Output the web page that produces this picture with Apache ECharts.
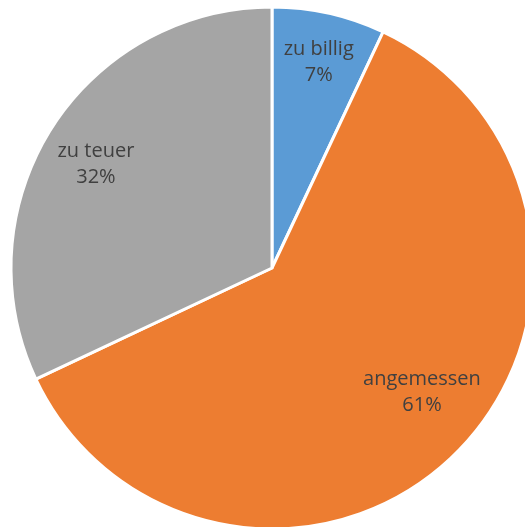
<!DOCTYPE html>
<html>
<head>
<meta charset="utf-8">
<style>
  html, body { margin: 0; padding: 0; background: #fff; }
  #main { width: 525px; height: 527px; }
</style>
</head>
<body>
<div id="main"></div>
<script src="https://cdn.jsdelivr.net/npm/echarts@6/dist/echarts.min.js"></script>
<script>
// Daten
var categories = ['zu billig', 'angemessen', 'zu teuer'];
var values = [7, 61, 32];
var colors = ['#5B9BD5', '#ED7D31', '#A5A5A5'];

var chart = echarts.init(document.getElementById('main'));

// kleine Korrekturen der Beschriftungslage (wie Excel sie setzt)
var labelShift = [[2, -6], [5, -21], [-3, 6]];

var option = {
  animation: false,
  series: [
    {
      type: 'pie',
      center: [272, 268],
      radius: [0, 261],
      startAngle: 90,
      clockwise: true,
      itemStyle: { borderColor: '#fff', borderWidth: 3 },
      label: { show: false },
      labelLine: { show: false },
      silent: true,
      data: categories.map(function (name, i) {
        return { name: name, value: values[i], itemStyle: { color: colors[i] } };
      })
    },
    // nur Beschriftungen, weiter außen platziert wie im Original
    {
      type: 'pie',
      center: [272, 268],
      radius: [142, 262],
      startAngle: 90,
      clockwise: true,
      silent: true,
      itemStyle: { color: 'rgba(0,0,0,0)' },
      label: {
        show: true,
        position: 'inside',
        formatter: '{b}\n{d}%',
        color: '#404040',
        fontFamily: 'Open Sans',
        fontSize: 20,
        lineHeight: 26
      },
      labelLine: { show: false },
      data: categories.map(function (name, i) {
        return { name: name, value: values[i], label: { offset: labelShift[i] } };
      })
    }
  ]
};

chart.setOption(option);
</script>
</body>
</html>
